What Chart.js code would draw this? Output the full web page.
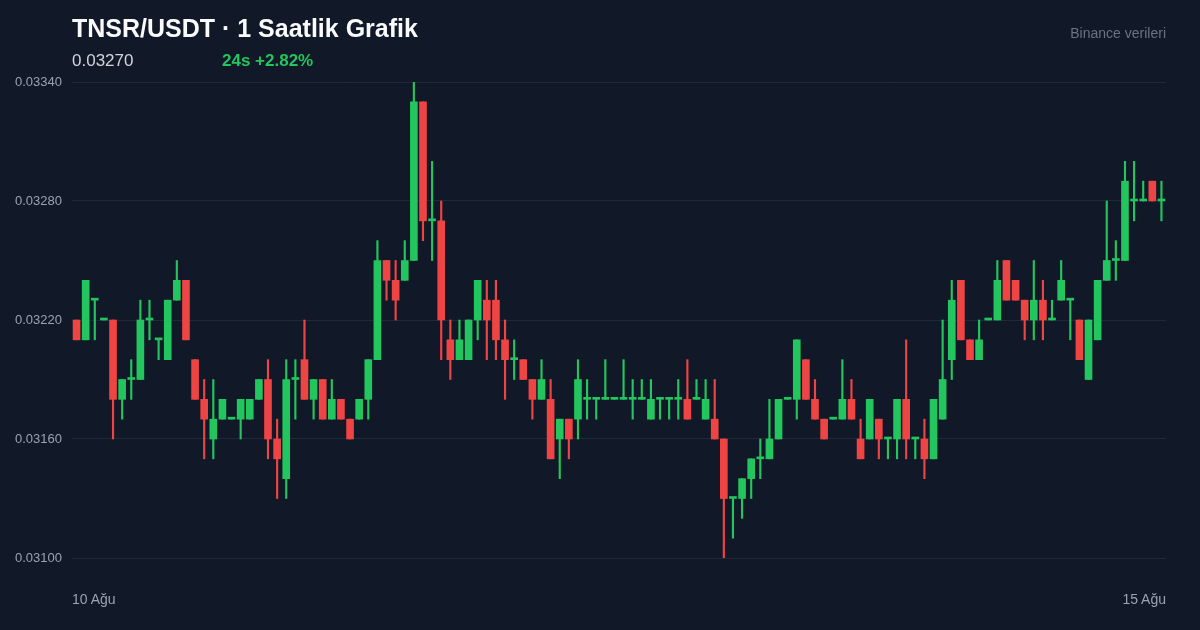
<!DOCTYPE html>
<html>
<head>
<meta charset="utf-8">
<script src="https://cdn.jsdelivr.net/npm/chart.js@4"></script>
<style>
  body { margin: 0; background: #111827; font-family: "Liberation Sans", Arial, sans-serif; }
  #wrap { position: relative; width: 1200px; height: 630px; overflow: hidden; }
  canvas { position: absolute; left: 0; top: 0; }
  .t { position: absolute; white-space: nowrap; }
</style>
</head>
<body>
<div id="wrap">
  <canvas id="c" width="1200" height="630"></canvas>
  <div class="t" style="left:72px;top:14px;font-size:25px;font-weight:bold;color:#f9fafb;">TNSR/USDT · 1 Saatlik Grafik</div>
  <div class="t" style="left:72px;top:51px;font-size:17px;color:#d1d5db;">0.03270</div>
  <div class="t" style="left:222px;top:51px;font-size:17px;font-weight:bold;color:#22c55e;">24s +2.82%</div>
  <div class="t" style="right:34px;top:25px;font-size:14px;color:#6b7280;">Binance verileri</div>
  <div class="t" style="left:72px;top:591px;font-size:14px;color:#9ca3af;">10 Ağu</div>
  <div class="t" style="right:34px;top:591px;font-size:14px;color:#9ca3af;">15 Ağu</div>
</div>
<script>
const opens = [0.0322,0.0321,0.0323,0.0322,0.0322,0.0318,0.0319,0.0319,0.0322,0.0321,
  0.0320,0.0323,0.0324,0.0320,0.0318,0.0316,0.0317,0.0317,0.0317,0.0317,
  0.0318,0.0319,0.0316,0.0314,0.0319,0.0320,0.0318,0.0319,0.0317,0.0318,
  0.0317,0.0317,0.0318,0.0320,0.0325,0.0324,0.0324,0.0325,0.0333,0.0327,
  0.0327,0.0321,0.0320,0.0320,0.0322,0.0323,0.0323,0.0321,0.0320,0.0320,
  0.0319,0.0318,0.0318,0.0316,0.0317,0.0317,0.0318,0.0318,0.0318,0.0318,
  0.0318,0.0318,0.0318,0.0317,0.0318,0.0318,0.0318,0.0318,0.0318,0.0317,
  0.0317,0.0316,0.0313,0.0313,0.0314,0.0315,0.0315,0.0316,0.0318,0.0318,
  0.0320,0.0318,0.0317,0.0317,0.0317,0.0318,0.0316,0.0316,0.0317,0.0316,
  0.0316,0.0318,0.0316,0.0316,0.0315,0.0317,0.0320,0.0324,0.0321,0.0320,
  0.0322,0.0322,0.0325,0.0324,0.0323,0.0322,0.0323,0.0322,0.0323,0.0323,
  0.0322,0.0319,0.0321,0.0324,0.0325,0.0325,0.0328,0.0328,0.0329,0.0328];
const highs = [0.0322,0.0324,0.0323,0.0322,0.0322,0.0319,0.0320,0.0323,0.0323,0.0321,
  0.0323,0.0325,0.0324,0.0320,0.0319,0.0319,0.0318,0.0317,0.0318,0.0318,
  0.0319,0.0320,0.0317,0.0320,0.0320,0.0322,0.0319,0.0319,0.0319,0.0318,
  0.0317,0.0318,0.0320,0.0326,0.0325,0.0325,0.0326,0.0334,0.0333,0.0330,
  0.0328,0.0322,0.0322,0.0322,0.0324,0.0324,0.0324,0.0322,0.0321,0.0320,
  0.0319,0.0320,0.0319,0.0317,0.0317,0.0320,0.0319,0.0318,0.0320,0.0318,
  0.0320,0.0319,0.0319,0.0319,0.0318,0.0318,0.0319,0.0320,0.0319,0.0319,
  0.0319,0.0316,0.0313,0.0314,0.0315,0.0316,0.0318,0.0318,0.0318,0.0321,
  0.0320,0.0319,0.0317,0.0317,0.0320,0.0319,0.0317,0.0318,0.0317,0.0316,
  0.0318,0.0321,0.0316,0.0317,0.0318,0.0322,0.0324,0.0324,0.0321,0.0322,
  0.0322,0.0325,0.0325,0.0324,0.0323,0.0325,0.0324,0.0323,0.0325,0.0323,
  0.0322,0.0322,0.0324,0.0328,0.0326,0.0330,0.0330,0.0329,0.0329,0.0329];
const lows = [0.0321,0.0321,0.0321,0.0322,0.0316,0.0317,0.0318,0.0319,0.0321,0.0320,
  0.0320,0.0323,0.0321,0.0318,0.0315,0.0315,0.0317,0.0317,0.0316,0.0317,
  0.0318,0.0315,0.0313,0.0313,0.0317,0.0318,0.0317,0.0317,0.0317,0.0317,
  0.0316,0.0317,0.0317,0.0320,0.0323,0.0322,0.0324,0.0325,0.0326,0.0325,
  0.0320,0.0319,0.0320,0.0320,0.0321,0.0320,0.0320,0.0318,0.0319,0.0319,
  0.0317,0.0318,0.0315,0.0314,0.0315,0.0316,0.0317,0.0317,0.0318,0.0318,
  0.0318,0.0317,0.0318,0.0317,0.0317,0.0317,0.0317,0.0317,0.0318,0.0317,
  0.0316,0.0310,0.0311,0.0312,0.0313,0.0314,0.0315,0.0316,0.0318,0.0317,
  0.0318,0.0317,0.0316,0.0317,0.0317,0.0317,0.0315,0.0316,0.0315,0.0315,
  0.0315,0.0315,0.0315,0.0314,0.0315,0.0317,0.0319,0.0321,0.0320,0.0320,
  0.0322,0.0322,0.0323,0.0323,0.0321,0.0321,0.0321,0.0322,0.0323,0.0321,
  0.0320,0.0319,0.0321,0.0324,0.0324,0.0325,0.0327,0.0328,0.0328,0.0327];
const closes = [0.0321,0.0324,0.0323,0.0322,0.0318,0.0319,0.0319,0.0322,0.0322,0.0321,
  0.0323,0.0324,0.0321,0.0318,0.0317,0.0317,0.0318,0.0317,0.0318,0.0318,
  0.0319,0.0316,0.0315,0.0319,0.0319,0.0318,0.0319,0.0317,0.0318,0.0317,
  0.0316,0.0318,0.0320,0.0325,0.0324,0.0323,0.0325,0.0333,0.0327,0.0327,
  0.0322,0.0320,0.0321,0.0322,0.0324,0.0322,0.0321,0.0320,0.0320,0.0319,
  0.0318,0.0319,0.0315,0.0317,0.0316,0.0319,0.0318,0.0318,0.0318,0.0318,
  0.0318,0.0318,0.0318,0.0318,0.0318,0.0318,0.0318,0.0317,0.0318,0.0318,
  0.0316,0.0313,0.0313,0.0314,0.0315,0.0315,0.0316,0.0318,0.0318,0.0321,
  0.0318,0.0317,0.0316,0.0317,0.0318,0.0317,0.0315,0.0318,0.0316,0.0316,
  0.0318,0.0316,0.0316,0.0315,0.0318,0.0319,0.0323,0.0321,0.0320,0.0321,
  0.0322,0.0324,0.0323,0.0323,0.0322,0.0323,0.0322,0.0322,0.0324,0.0323,
  0.0320,0.0322,0.0324,0.0325,0.0325,0.0329,0.0328,0.0328,0.0328,0.0328];
const yTicks = [0.0310, 0.0316, 0.0322, 0.0328, 0.0334];

const up = '#22c55e', down = '#ef4444';
const labels = opens.map((_, i) => i);
const colors = opens.map((o, i) => closes[i] >= o ? up : down);

new Chart(document.getElementById('c'), {
  type: 'bar',
  data: {
    labels,
    datasets: [
      {
        data: opens.map((o, i) => [o, closes[i]]),
        backgroundColor: colors,
        barThickness: 7,
        minBarLength: 2,
        grouped: false,
        order: 0
      },
      {
        data: lows.map((l, i) => [l, highs[i]]),
        backgroundColor: colors,
        barThickness: 1.5,
        grouped: false,
        order: 1
      }
    ]
  },
  options: {
    responsive: false,
    animation: false,
    layout: { padding: { top: 82, bottom: 72, right: 34, left: 0 } },
    plugins: { legend: { display: false }, tooltip: { enabled: false } },
    scales: {
      x: { display: false, offset: true },
      y: {
        min: 0.0310, max: 0.0334,
        afterFit: s => { s.width = 72; },
        afterBuildTicks: s => { s.ticks = yTicks.map(v => ({ value: v })); },
        grid: { color: '#1f2937', drawTicks: false },
        border: { display: false },
        ticks: {
          color: '#9ca3af', padding: 10,
          font: { size: 13, family: 'Liberation Sans' },
          callback: v => v.toFixed(5)
        }
      }
    }
  }
});
</script>
</body>
</html>
